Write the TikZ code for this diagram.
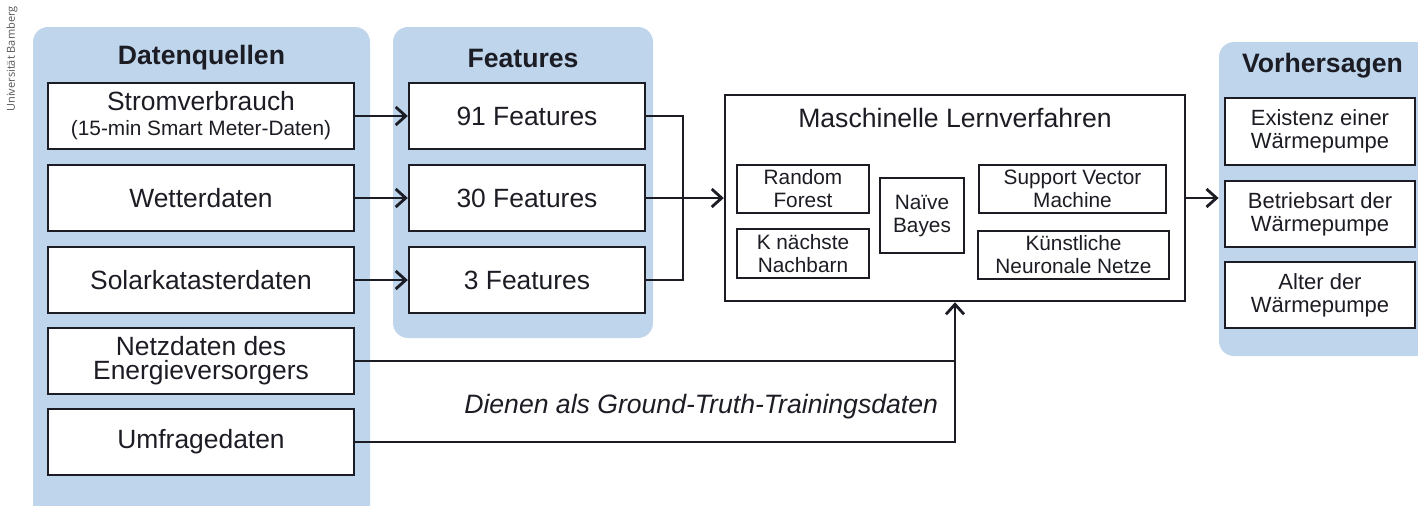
\documentclass[tikz,border=0pt]{standalone}
\usepackage{fontspec}
\setmainfont{Liberation Sans}
\newfontfamily\wmfont{Open Sans}
\usetikzlibrary{arrows.meta}

\definecolor{panelblue}{RGB}{190,213,236}
\definecolor{ink}{RGB}{28,28,36}
\definecolor{wmgray}{RGB}{85,85,85}

\begin{document}
\begin{tikzpicture}[x=0.5pt,y=-0.5pt,
  panel/.style={fill=panelblue, rounded corners=7.5pt, inner sep=0pt},
  paneltitle/.style={font=\bfseries\fontsize{13.3}{15}\selectfont, text=ink},
  box/.style={draw=ink, line width=1.2pt, fill=white, inner sep=0pt, align=center,
              text=ink, font=\fontsize{13.2}{12}\selectfont},
  smallbox/.style={draw=ink, line width=1pt, fill=white, inner sep=0pt, align=center,
              text=ink, font=\fontsize{10.4}{11.5}\selectfont},
  outbox/.style={draw=ink, line width=1.2pt, fill=white, inner sep=0pt, align=center,
              text=ink, font=\fontsize{11}{11.4}\selectfont},
  conn/.style={draw=ink, line width=1.4pt},
  arr/.style={conn, -{Straight Barb[length=5pt, width=9pt, line width=1.4pt]}}
]
\useasboundingbox (0,0) rectangle (1418,505);

% side note
\node[rotate=90, font=\wmfont\fontsize{5.5}{6}\selectfont, text=wmgray] (wm) at (12,59) {Universität Bamberg};

% background panels
\node[panel, minimum width=168.5pt, minimum height=246.5pt] (pq) at (201.5,273.5) {};
\node[panel, minimum width=130pt, minimum height=155.5pt] (pf) at (523,182.5) {};
\node[panel, minimum width=105.5pt, minimum height=157pt] (pv) at (1324.5,199) {};

\node[paneltitle] (tq) at (201.5,58) {Datenquellen};
\node[paneltitle] (tf) at (523,58) {Features};
\node[paneltitle] (tv) at (1322.5,66) {Vorhersagen};

% data sources
\node[box, minimum width=153pt, minimum height=33pt] (strom) at (201,116)
  {Stromverbrauch\\[0.5pt]{\fontsize{10.4}{11}\selectfont (15-min Smart Meter-Daten)}};
\node[box, minimum width=153pt, minimum height=33pt] (wetter) at (201,198) {Wetterdaten};
\node[box, minimum width=153pt, minimum height=33pt] (solar) at (201,280) {Solarkatasterdaten};
\node[box, minimum width=153pt, minimum height=33pt] (netz) at (201,361) {Netzdaten des\\Energieversorgers};
\node[box, minimum width=153pt, minimum height=33pt] (umfrage) at (201,442) {Umfragedaten};

% features
\node[box, minimum width=118pt, minimum height=33pt] (f91) at (527,116) {91 Features};
\node[box, minimum width=118pt, minimum height=33pt] (f30) at (527,198) {30 Features};
\node[box, minimum width=118pt, minimum height=33pt] (f3) at (527,280) {3 Features};

% learning methods
\node[draw=ink, line width=1.2pt, fill=white, minimum width=230pt, minimum height=103pt] (ml) at (955,198) {};
\node[text=ink, font=\fontsize{13.3}{15}\selectfont] (mlt) at (955,118) {Maschinelle Lernverfahren};
\node[smallbox, minimum width=66pt, minimum height=24pt] (rf) at (803,189) {Random\\Forest};
\node[smallbox, minimum width=66pt, minimum height=24.5pt] (knn) at (803,253.5) {K nächste\\Nachbarn};
\node[smallbox, minimum width=42pt, minimum height=37.5pt] (nb) at (922,215.5) {Naïve\\Bayes};
\node[smallbox, minimum width=93.5pt, minimum height=24pt] (svm) at (1072.5,189) {Support Vector\\Machine};
\node[smallbox, minimum width=95.5pt, minimum height=24pt] (ann) at (1073.5,255) {Künstliche\\Neuronale Netze};

% predictions
\node[outbox, minimum width=95pt, minimum height=33.5pt] (o1) at (1320,131.5) {Existenz einer\\Wärmepumpe};
\node[outbox, minimum width=95pt, minimum height=33pt] (o2) at (1320,214) {Betriebsart der\\Wärmepumpe};
\node[outbox, minimum width=95pt, minimum height=33pt] (o3) at (1320,295) {Alter der\\Wärmepumpe};

% connectors
\draw[arr] (strom.east) -- (f91.west);
\draw[arr] (wetter.east) -- (f30.west);
\draw[arr] (solar.east) -- (f3.west);

\coordinate (join) at (683,198);
\draw[conn] (f91.east) -| (join);
\draw[conn] (f3.east) -| (join);
\draw[arr] (f30.east) -- (ml.west);

\draw[arr] (ml.east) -- (ml.east -| pv.west);

\draw[arr] (umfrage.east) -| (ml.south);
\draw[conn] (netz.east) -- (netz.east -| ml.south);

\node[anchor=base east, text=ink, font=\itshape\fontsize{13.3}{15}\selectfont] (gt) at (945,413)
  {Dienen als Ground-Truth-Trainingsdaten};
\end{tikzpicture}
\end{document}
